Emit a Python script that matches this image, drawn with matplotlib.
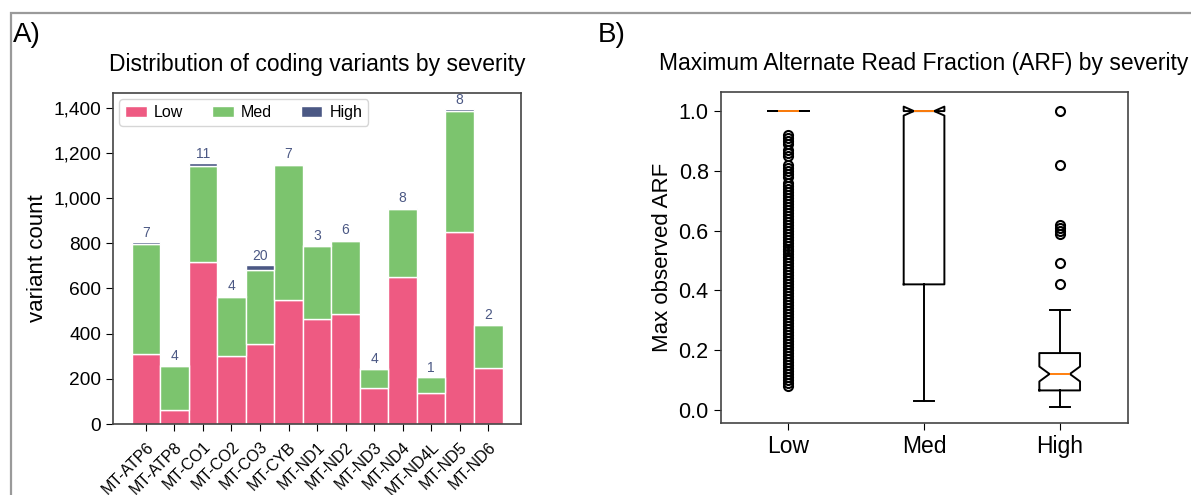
"""Coding variant counts by gene and max ARF by severity."""

import matplotlib
matplotlib.use("Agg")
import matplotlib.pyplot as plt
from matplotlib.patches import Rectangle

plt.rcParams["font.family"] = ["Liberation Sans", "DejaVu Sans"]

# ── Panel A data: variant counts per gene ──
genes = ["MT-ATP6", "MT-ATP8", "MT-CO1", "MT-CO2", "MT-CO3", "MT-CYB", "MT-ND1",
         "MT-ND2", "MT-ND3", "MT-ND4", "MT-ND4L", "MT-ND5", "MT-ND6"]
low = [312, 62, 718, 303, 354, 550, 464, 487, 159, 649, 137, 850, 250]
med = [486, 193, 425, 261, 328, 595, 323, 323, 85, 301, 70, 537, 188]
high = [7, 4, 11, 4, 20, 7, 3, 6, 4, 8, 1, 8, 2]

# ── Panel B data: box summary of max ARF ──
severity = ["Low", "Med", "High"]
medians = [1.0, 1.0, 0.12]
q1s = [1.0, 0.42, 0.065]
q3s = [1.0, 1.0, 0.19]
whis_lo = [1.0, 0.028, 0.008]
whis_hi = [1.0, 1.0, 0.335]
ci_lo = [1.0, 0.985, 0.095]
ci_hi = [1.0, 1.015, 0.145]
low_fliers = [0.92, 0.91, 0.90, 0.89, 0.87, 0.86, 0.85, 0.82, 0.81, 0.80, 0.79, 0.78,
              0.76, 0.75, 0.74, 0.73, 0.72, 0.71, 0.70, 0.69, 0.68, 0.67, 0.66, 0.65,
              0.64, 0.63, 0.62, 0.61, 0.60, 0.59, 0.58, 0.57, 0.56, 0.55, 0.54, 0.53,
              0.52, 0.51, 0.50, 0.49, 0.48, 0.47, 0.46, 0.45, 0.44, 0.43, 0.42, 0.41,
              0.40, 0.39, 0.38, 0.37, 0.36, 0.35, 0.34, 0.33, 0.32, 0.31, 0.30, 0.29,
              0.28, 0.27, 0.26, 0.25, 0.24, 0.23, 0.22, 0.21, 0.20, 0.19, 0.18, 0.17,
              0.16, 0.15, 0.14, 0.13, 0.12, 0.11, 0.10, 0.09, 0.08]
med_fliers = []
high_fliers = [0.42, 0.49, 0.59, 0.60, 0.61, 0.62, 0.82, 1.0]

C_LOW, C_MED, C_HIGH = "#EE5A82", "#7CC46E", "#4B5884"

fig = plt.figure(figsize=(11.91, 4.95), dpi=100)
fig.patches.append(Rectangle((0.0095, -0.1), 1.2, 1.074, transform=fig.transFigure,
                             fill=False, edgecolor="#9a9a9a", linewidth=1.6))

# ── A) stacked bars ──
ax = fig.add_axes([0.0949, 0.1434, 0.3426, 0.6687])
x = list(range(len(genes)))
bottom_high = [l + m for l, m in zip(low, med)]
ax.bar(x, low, width=1, color=C_LOW, edgecolor="white", linewidth=1, label="Low")
ax.bar(x, med, width=1, bottom=low, color=C_MED, edgecolor="white", linewidth=1, label="Med")
ax.bar(x, high, width=1, bottom=bottom_high, color=C_HIGH, edgecolor="white",
       linewidth=1, label="High")
for xi, b, h in zip(x, bottom_high, high):
    ax.text(xi, b + h + 10, str(h), ha="center", va="bottom", fontsize=10, color=C_HIGH)

ax.set_xticks(x)
ax.set_xticklabels(genes, rotation=45, ha="right", rotation_mode="anchor", fontsize=11.5)
ax.tick_params(axis="x", length=5, pad=6)
ax.yaxis.set_major_formatter(matplotlib.ticker.StrMethodFormatter("{x:,.0f}"))
ax.set_yticks(range(0, 1401, 200))
ax.tick_params(axis="y", labelsize=13.8, length=5)
ax.set_ylabel("variant count", fontsize=16)
ax.set_title("Distribution of coding variants by severity", fontsize=16.5, pad=16)
ax.legend(loc="upper left", ncol=3, fontsize=11.5, handlelength=1.36, columnspacing=1.8,
          borderaxespad=0.4, handletextpad=0.45, borderpad=0.35)
for s in ax.spines.values():
    s.set_color("#444444")
    s.set_linewidth(1.2)
fig.text(0.011, 0.915, "A)", fontsize=20)

# ── B) notched boxplots ──
ax2 = fig.add_axes([0.605, 0.1455, 0.3417, 0.6687])
stats = []
fliers = [low_fliers, med_fliers, high_fliers]
for i, lab in enumerate(severity):
    stats.append(dict(label=lab, med=medians[i], q1=q1s[i], q3=q3s[i],
                      whislo=whis_lo[i], whishi=whis_hi[i], cilo=ci_lo[i],
                      cihi=ci_hi[i], fliers=fliers[i]))
ax2.bxp(stats, positions=[1, 2, 3], widths=0.3, shownotches=True,
        boxprops=dict(linewidth=1.4), whiskerprops=dict(linewidth=1.4),
        capprops=dict(linewidth=1.4), medianprops=dict(color="#ff7f0e", linewidth=1.4),
        flierprops=dict(marker="o", markerfacecolor="none", markeredgecolor="black",
                        markersize=6.5, markeredgewidth=1.5))
ax2.set_xlim(0.5, 3.5)
ax2.set_ylim(-0.044, 1.064)
ax2.set_yticks([0.0, 0.2, 0.4, 0.6, 0.8, 1.0])
ax2.tick_params(axis="y", labelsize=15.5, length=5)
ax2.tick_params(axis="x", labelsize=16.5, length=5)
ax2.set_ylabel("Max observed ARF", fontsize=16)
ax2.set_title("Maximum Alternate Read Fraction (ARF) by severity", fontsize=16.5, pad=16)
for s in ax2.spines.values():
    s.set_color("#444444")
    s.set_linewidth(1.2)
fig.text(0.502, 0.915, "B)", fontsize=20)

fig.savefig("out.png", dpi=100)
plt.close("all")
